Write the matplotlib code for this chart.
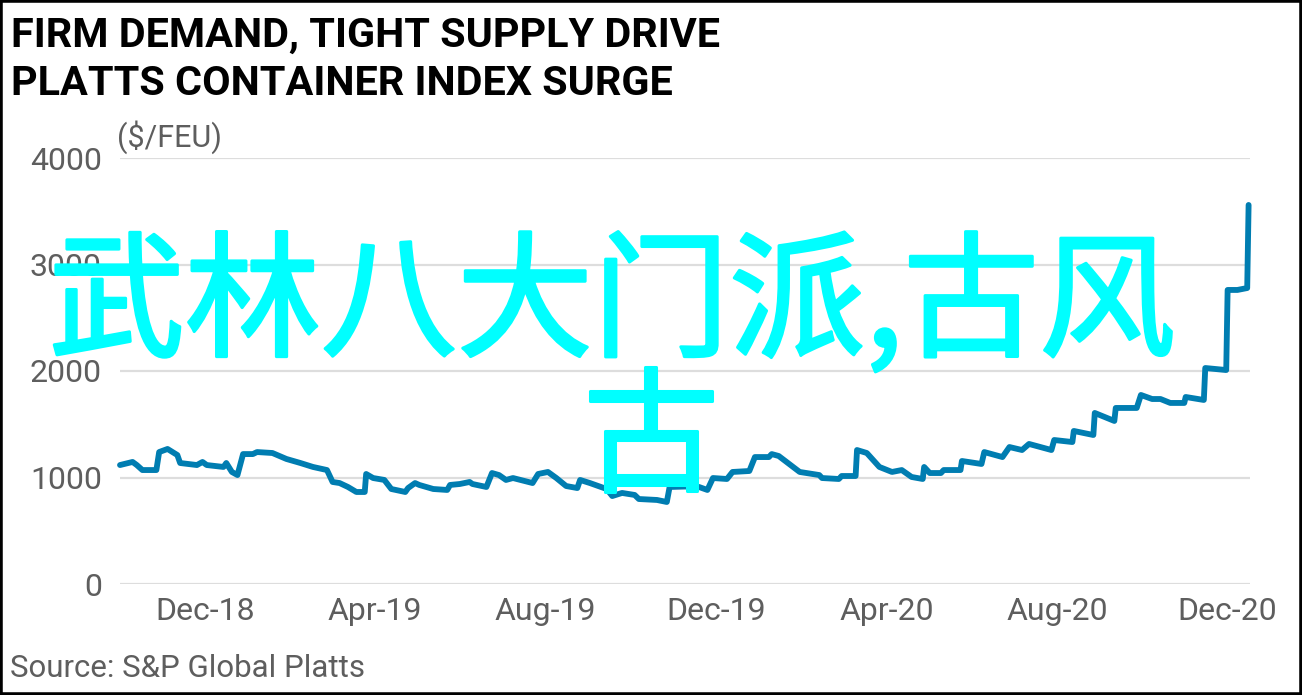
import matplotlib
matplotlib.use('Agg')
import matplotlib.pyplot as plt
import matplotlib.patheffects as pe
from matplotlib.patches import Rectangle
import pandas as pd

# ---------------- data ----------------
dates = [
    '2018-10-01', '2018-10-10', '2018-10-13', '2018-10-17', '2018-10-27', '2018-10-29',
    '2018-11-04', '2018-11-11', '2018-11-13', '2018-11-25', '2018-11-29', '2018-12-02',
    '2018-12-14', '2018-12-16', '2018-12-20', '2018-12-24', '2018-12-28', '2019-01-04',
    '2019-01-07', '2019-01-18', '2019-01-28', '2019-02-07', '2019-02-16', '2019-02-26',
    '2019-03-02', '2019-03-07', '2019-03-13', '2019-03-19', '2019-03-25', '2019-03-26',
    '2019-03-31', '2019-04-08', '2019-04-13', '2019-04-23', '2019-04-25', '2019-04-30',
    '2019-05-03', '2019-05-13', '2019-05-23', '2019-05-25', '2019-06-01', '2019-06-08',
    '2019-06-10', '2019-06-20', '2019-06-24', '2019-06-29', '2019-07-04', '2019-07-09',
    '2019-07-23', '2019-07-27', '2019-08-03', '2019-08-09', '2019-08-16', '2019-08-24',
    '2019-08-26', '2019-09-02', '2019-09-14', '2019-09-18', '2019-09-25', '2019-10-04',
    '2019-10-07', '2019-10-20', '2019-10-27', '2019-10-29', '2019-11-09', '2019-11-19',
    '2019-11-25', '2019-11-29', '2019-12-09', '2019-12-13', '2019-12-25', '2019-12-29',
    '2020-01-08', '2020-01-10', '2020-01-15', '2020-01-30', '2020-02-13', '2020-02-15',
    '2020-02-27', '2020-02-29', '2020-03-10', '2020-03-11', '2020-03-18', '2020-03-27',
    '2020-04-05', '2020-04-12', '2020-04-19', '2020-04-27', '2020-04-28', '2020-05-02',
    '2020-05-10', '2020-05-12', '2020-05-24', '2020-05-25', '2020-06-08', '2020-06-10',
    '2020-06-23', '2020-06-28', '2020-07-07', '2020-07-12', '2020-07-28', '2020-07-30',
    '2020-08-12', '2020-08-13', '2020-08-27', '2020-08-28', '2020-09-11', '2020-09-12',
    '2020-09-27', '2020-09-30', '2020-10-08', '2020-10-14', '2020-10-21', '2020-10-31',
    '2020-11-01', '2020-11-14', '2020-11-15', '2020-11-30', '2020-12-01', '2020-12-08',
    '2020-12-15', '2020-12-16',
]
values = [
    1117, 1146, 1117, 1070, 1070, 1239,
    1268, 1211, 1136, 1117, 1146, 1117,
    1099, 1136, 1052, 1023, 1220, 1220,
    1239, 1230, 1174, 1136, 1099, 1070,
    958, 948, 911, 864, 864, 1033,
    995, 977, 892, 864, 901, 948,
    930, 892, 883, 930, 939, 958,
    939, 911, 1042, 1023, 977, 995,
    948, 1033, 1052, 995, 920, 901,
    977, 948, 892, 826, 855, 836,
    798, 789, 770, 911, 915, 911,
    883, 995, 986, 1052, 1061, 1192,
    1192, 1220, 1202, 1052, 1023, 995,
    986, 1014, 1014, 1258, 1230, 1099,
    1052, 1070, 1005, 986, 1099, 1042,
    1042, 1070, 1070, 1155, 1127, 1239,
    1192, 1286, 1258, 1315, 1258, 1352,
    1333, 1437, 1399, 1606, 1531, 1653,
    1653, 1775, 1737, 1737, 1700, 1700,
    1756, 1728, 2028, 2009, 2761, 2761,
    2779, 3559,
]
y_ticks = [0, 1000, 2000, 3000, 4000]
x_tick_dates = ['2018-12-01', '2019-04-01', '2019-08-01', '2019-12-01',
                '2020-04-01', '2020-08-01', '2020-12-01']
x_tick_labels = ['Dec-18', 'Apr-19', 'Aug-19', 'Dec-19', 'Apr-20', 'Aug-20', 'Dec-20']
title_lines = ['FIRM DEMAND, TIGHT SUPPLY DRIVE', 'PLATTS CONTAINER INDEX SURGE']
unit_label = '($/FEU)'
source_text = 'Source: S&P Global Platts'
watermark_line1 = '武林八大门派,古风'
watermark_line2 = '古'

# ---------------- style ----------------
W, H = 1302, 695
LINE_COLOR = '#007DB1'
GRID_COLOR = '#dddddd'
TEXT_GRAY = '#5e5e5e'
WM_COLOR = '#00FFFF'
BODY_FONT = ['Roboto', 'DejaVu Sans']
TITLE_FONT = ['Roboto', 'DejaVu Sans']
CJK_FONT = ['Noto Sans CJK SC', 'DejaVu Sans']

fig = plt.figure(figsize=(W / 100, H / 100), dpi=100)
fig.patch.set_facecolor('white')

ax = fig.add_axes([120 / W, (H - 584) / H, 1130 / W, 426 / H])
x = pd.to_datetime(dates)
ax.plot(x, values, color=LINE_COLOR, lw=4.2, solid_joinstyle='round',
        solid_capstyle='round', zorder=3, clip_on=False)

ax.set_ylim(0, 4000)
ax.set_xlim(pd.Timestamp('2018-10-01'), pd.Timestamp('2020-12-17'))
ax.set_yticks(y_ticks)
ax.set_yticklabels([str(v) for v in y_ticks])
ax.set_xticks(pd.to_datetime(x_tick_dates))
ax.set_xticklabels(x_tick_labels)
ax.grid(axis='y', color=GRID_COLOR, lw=1.6)
ax.grid(axis='x', visible=False)
ax.set_axisbelow(True)
for s in ax.spines.values():
    s.set_visible(False)
ax.tick_params(axis='both', length=0, labelsize=23, labelcolor=TEXT_GRAY)
ax.tick_params(axis='y', pad=13)
ax.tick_params(axis='x', pad=9)
for lab in ax.get_xticklabels() + ax.get_yticklabels():
    lab.set_family(BODY_FONT)
for lab in ax.get_yticklabels():
    lab.set_verticalalignment('center_baseline')

# titles and annotations
fig.text(11 / W, 1 - 47 / H, title_lines[0], family=TITLE_FONT, weight='bold',
         fontsize=29.8, color='black', ha='left', va='baseline')
fig.text(11 / W, 1 - 95 / H, title_lines[1], family=TITLE_FONT, weight='bold',
         fontsize=29.8, color='black', ha='left', va='baseline')
fig.text(117 / W, 1 - 147 / H, unit_label, family=BODY_FONT, fontsize=22,
         color=TEXT_GRAY, ha='left', va='baseline')
fig.text(10 / W, 1 - 677 / H, source_text, family=BODY_FONT, fontsize=22.5,
         color=TEXT_GRAY, ha='left', va='baseline')

# watermark
thicken = [pe.withStroke(linewidth=2.2, foreground=WM_COLOR)]
fig.text(612 / W, 1 - 346 / H, watermark_line1, family=CJK_FONT,
         fontsize=98, color=WM_COLOR, ha='center', va='baseline', zorder=10,
         path_effects=thicken)
fig.text(651 / W, 1 - 481 / H, watermark_line2, family=CJK_FONT,
         fontsize=98, color=WM_COLOR, ha='center', va='baseline', zorder=10,
         path_effects=thicken)

# outer border
fig.patches.append(Rectangle((0, 0), 1, 1, transform=fig.transFigure, fill=False,
                             edgecolor='black', lw=4, zorder=20))

fig.savefig('out.png', dpi=100)
